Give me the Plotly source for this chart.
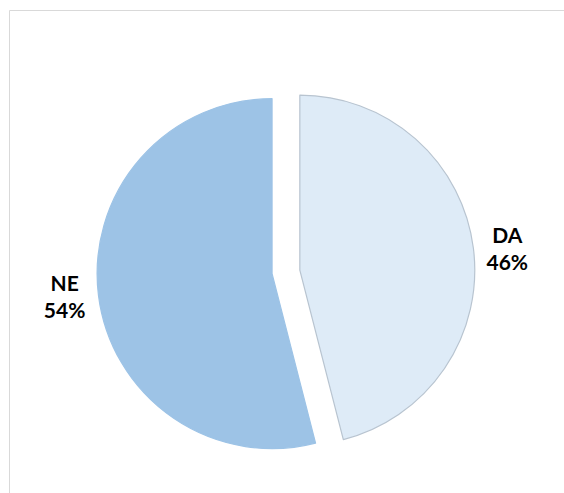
import plotly.graph_objects as go

labels = ["DA", "NE"]
values = [46, 54]
colors = ["#DEEBF7", "#9DC3E6"]
line_colors = ["#B8C4D0", "#9DC3E6"]

W, H = 564, 493
bx, by = 9.5 / W, 1 - 10.5 / H

fig = go.Figure(go.Pie(
    labels=labels,
    values=values,
    sort=False,
    direction="clockwise",
    rotation=0,
    pull=[0.08, 0.08],
    marker=dict(colors=colors, line=dict(color=line_colors, width=1.2)),
    texttemplate="%{label}<br>%{percent:.0%}",
    textposition="outside",
    textfont=dict(family="Lato, Open Sans, sans-serif", size=21, color="#000000", weight="bold"),
    hoverinfo="skip",
    showlegend=False,
    domain=dict(x=[0.172, 0.842], y=[0.065, 0.832]),
))

fig.update_layout(
    width=W, height=H,
    margin=dict(l=0, r=0, t=0, b=0),
    paper_bgcolor="white",
    plot_bgcolor="white",
    font=dict(family="Lato, Open Sans, sans-serif"),
    shapes=[
        dict(type="line", xref="paper", yref="paper", x0=bx, x1=1, y0=by, y1=by,
             line=dict(color="#D9D9D9", width=1)),
        dict(type="line", xref="paper", yref="paper", x0=bx, x1=bx, y0=0, y1=by,
             line=dict(color="#D9D9D9", width=1)),
    ],
)

fig.write_html(
    "out.html",
    config={"displayModeBar": False},
    post_script="document.body.style.margin='0';document.body.style.overflow='hidden';",
)
